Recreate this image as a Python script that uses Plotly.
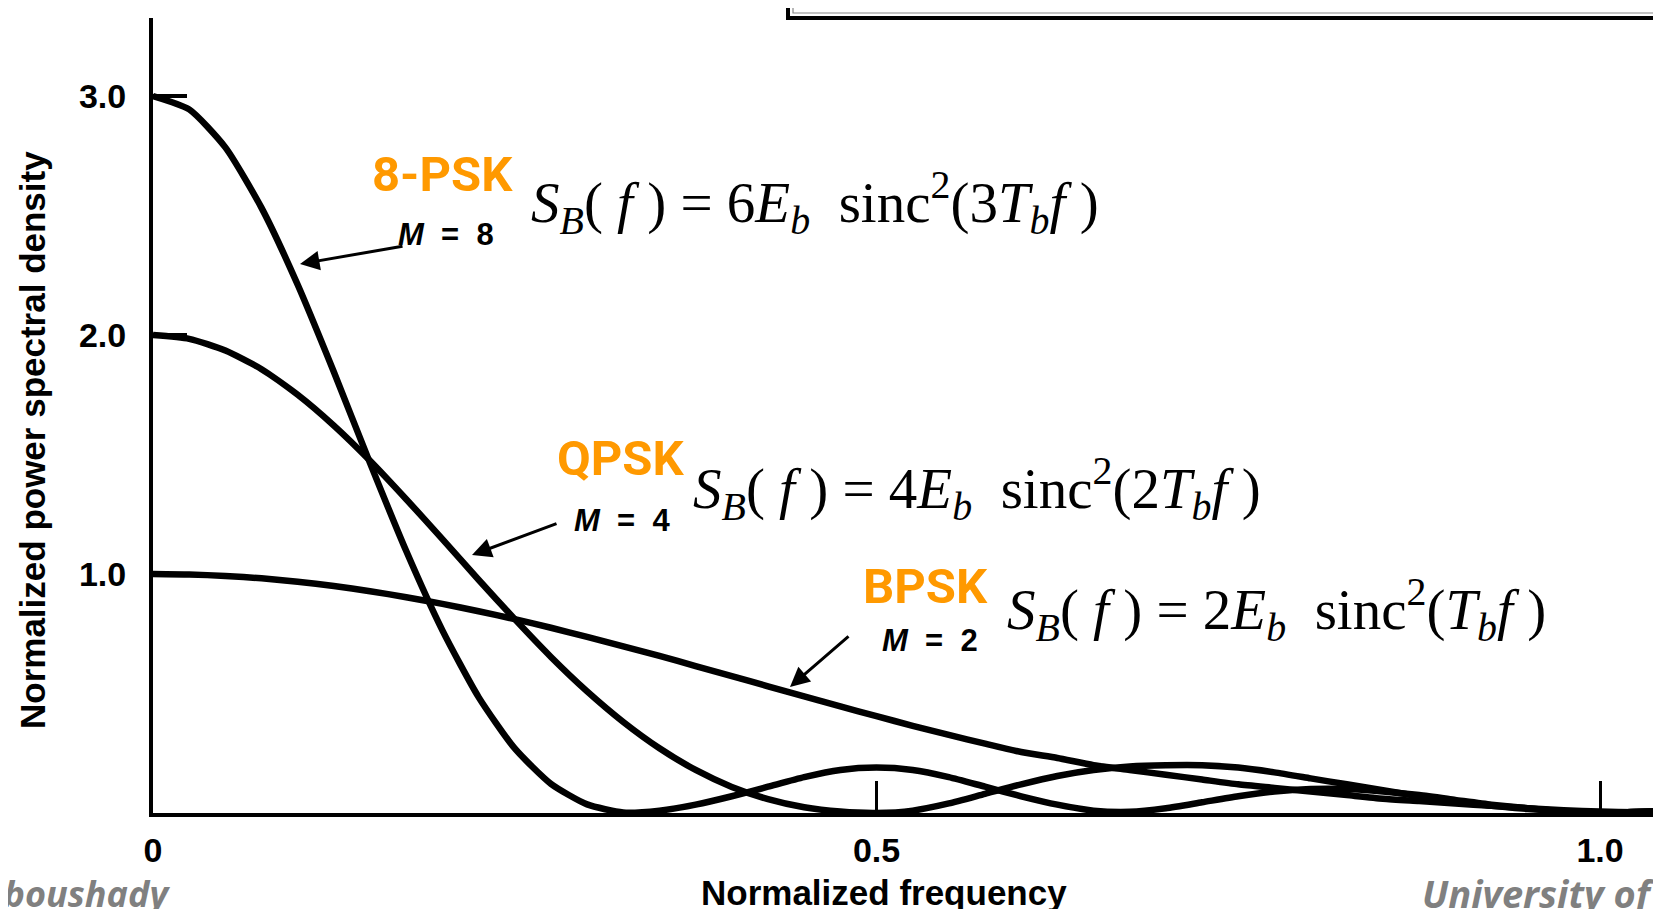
import plotly.graph_objects as go

# ---------------- data ----------------
freq = [0.0, 0.025, 0.05, 0.075, 0.1, 0.125, 0.15, 0.175, 0.2, 0.225,
        0.25, 0.275, 0.3, 0.325, 0.35, 0.375, 0.4, 0.425, 0.45, 0.475,
        0.5, 0.525, 0.55, 0.575, 0.6, 0.625, 0.65, 0.675, 0.7, 0.725,
        0.75, 0.775, 0.8, 0.825, 0.85, 0.875, 0.9, 0.925, 0.95, 0.975,
        1.0, 1.025, 1.05]

psd_bpsk = [1.0, 0.998, 0.992, 0.982, 0.968, 0.95, 0.928, 0.903, 0.875, 0.844,
            0.811, 0.775, 0.737, 0.697, 0.657, 0.615, 0.573, 0.53, 0.488, 0.446,
            0.405, 0.365, 0.327, 0.29, 0.255, 0.23, 0.2, 0.18, 0.16, 0.14,
            0.12, 0.105, 0.09, 0.075, 0.06, 0.05, 0.04, 0.03, 0.02, 0.012,
            0.006, 0.003, 0.0]

psd_qpsk = [2.0, 1.984, 1.935, 1.857, 1.75, 1.621, 1.474, 1.313, 1.146, 0.976,
            0.811, 0.653, 0.509, 0.381, 0.271, 0.18, 0.109, 0.058, 0.024, 0.006,
            0.0, 0.01, 0.04, 0.08, 0.12, 0.155, 0.18, 0.195, 0.2, 0.2,
            0.19, 0.17, 0.145, 0.12, 0.095, 0.07, 0.05, 0.03, 0.017, 0.007,
            0.0, 0.005, 0.01]

psd_8psk = [3.0, 2.944, 2.785, 2.532, 2.21, 1.845, 1.464, 1.096, 0.764, 0.485,
            0.27, 0.122, 0.036, 0.002, 0.01, 0.035, 0.07, 0.11, 0.15, 0.18,
            0.19, 0.18, 0.15, 0.11, 0.07, 0.035, 0.01, 0.005, 0.02, 0.045,
            0.07, 0.09, 0.1, 0.1, 0.09, 0.075, 0.055, 0.035, 0.02, 0.007,
            0.0, 0.005, 0.01]

x_tickvals = [0, 0.5, 1.0]
x_ticktext = ["0", "0.5", "1.0"]
y_tickvals = [1, 2, 3]
y_ticktext = ["1.0", "2.0", "3.0"]

series_names = ["BPSK", "QPSK", "8-PSK"]
scheme_labels = ["8-PSK", "QPSK", "BPSK"]
m_labels = ["<i>M</i>&nbsp; =&nbsp; 8", "<i>M</i>&nbsp; =&nbsp; 4", "<i>M</i>&nbsp; =&nbsp; 2"]
amplitudes = ["6", "4", "2"]
arguments = ["3", "2", ""]

# ---------------- layout geometry (pixels) ----------------
W, H = 1661, 909
L, R, T, B = 145, 0, 10, 104
PW = W - L - R
PH = H - T - B
X_UNIT = 1447.0   # pixels per 1.0 of normalized frequency
Y_UNIT = 239.0    # pixels per 1.0 of PSD


def pxx(px):
    return (px - L) / PW


def pxy(py):
    return (H - B - py) / PH


def dx(px):
    return (px - L) / X_UNIT


def dy(py):
    return (H - B - py) / Y_UNIT


fig = go.Figure()
for ys, name in zip([psd_bpsk, psd_qpsk, psd_8psk], series_names):
    fig.add_trace(go.Scatter(x=freq, y=ys, mode="lines", name=name,
                             line=dict(color="black", width=6.5, shape="spline", smoothing=0.6),
                             showlegend=False, hoverinfo="skip"))

ORANGE = "#FF9900"
GREY = "#808080"
annotations = []

# orange scheme labels
for text, (cx, cy) in zip(scheme_labels, [(434, 167), (613, 450), (918, 578)]):
    annotations.append(dict(xref="paper", yref="paper", x=pxx(cx), y=pxy(cy), text=text,
                            showarrow=False, xanchor="center", yanchor="middle",
                            font=dict(family="Roboto", size=49, color=ORANGE, weight="bold")))

# formulas
for k, a, (lx, cy) in zip(amplitudes, arguments, [(521, 195), (683, 480), (997, 601)]):
    txt = ("<i>S</i><sub><i>B</i></sub>( <i>f </i>) = " + k + "<i>E</i><sub><i>b</i></sub>&nbsp; sinc"
           "<sup>2</sup>(" + a + "<i>T</i><sub><i>b</i></sub><i>f </i>)")
    annotations.append(dict(xref="paper", yref="paper", x=pxx(lx), y=pxy(cy), text=txt,
                            showarrow=False, xanchor="left", yanchor="middle",
                            font=dict(family="Liberation Serif", size=57, color="black")))

# M = ... labels
for text, (cx, cy) in zip(m_labels, [(438, 226), (614, 512), (922, 632)]):
    annotations.append(dict(xref="paper", yref="paper", x=pxx(cx), y=pxy(cy), text=text,
                            showarrow=False, xanchor="center", yanchor="middle",
                            font=dict(family="Liberation Sans", size=31, color="black", weight="bold")))

# arrows (tail -> tip)
for (tx, ty), (hx, hy) in [((396, 238), (292, 256)), ((550, 515), (464, 547)), ((842, 627), (782, 679))]:
    annotations.append(dict(xref="x", yref="y", x=dx(hx), y=dy(hy), axref="x", ayref="y",
                            ax=dx(tx), ay=dy(ty), text="", showarrow=True,
                            arrowhead=2, arrowsize=1.3, arrowwidth=3, arrowcolor="black",
                            standoff=0, startstandoff=0))

# axis titles
annotations.append(dict(xref="paper", yref="paper", x=pxx(24), y=pxy(432),
                        text="Normalized power spectral density", textangle=-90,
                        showarrow=False, xanchor="center", yanchor="middle",
                        font=dict(family="Liberation Sans", size=35, color="black", weight="bold")))
annotations.append(dict(xref="paper", yref="paper", x=pxx(876), y=pxy(884),
                        text="Normalized frequency",
                        showarrow=False, xanchor="center", yanchor="middle",
                        font=dict(family="Liberation Sans", size=35, color="black", weight="bold")))

# footer texts (partially clipped in the reference)
annotations.append(dict(xref="paper", yref="paper", x=pxx(164), y=pxy(859),
                        text="<i>Aboushady</i>", showarrow=False, xanchor="right", yanchor="top",
                        font=dict(family="Open Sans", size=36, color=GREY, weight="bold")))
annotations.append(dict(xref="paper", yref="paper", x=pxx(1412), y=pxy(857),
                        text="<i>University of</i>", showarrow=False, xanchor="left", yanchor="top",
                        font=dict(family="Open Sans", size=38, color=GREY, weight="bold")))

shapes = [
    dict(type="path", xref="paper", yref="paper",
         path=f"M {pxx(780)} {pxy(-5)} L {pxx(780)} {pxy(10)} L {pxx(1670)} {pxy(10)}",
         line=dict(color="black", width=4)),
    dict(type="path", xref="paper", yref="paper",
         path=f"M {pxx(785)} {pxy(-5)} L {pxx(785)} {pxy(5)} L {pxx(1670)} {pxy(5)}",
         line=dict(color="#888888", width=1.2)),
]

fig.update_layout(
    width=W, height=H,
    margin=dict(l=L, r=R, t=T, b=B, pad=0),
    paper_bgcolor="white", plot_bgcolor="white",
    annotations=annotations, shapes=shapes,
    xaxis=dict(range=[0, PW / X_UNIT], showgrid=False, zeroline=False,
               showline=True, linecolor="black", linewidth=4,
               tickmode="array", tickvals=x_tickvals, ticktext=x_ticktext,
               ticks="inside", ticklen=32, tickwidth=2.5, tickcolor="black",
               ticklabelstandoff=4,
               tickfont=dict(family="Liberation Sans", size=34, color="black", weight="bold")),
    yaxis=dict(range=[0, PH / Y_UNIT], showgrid=False, zeroline=False,
               showline=True, linecolor="black", linewidth=4,
               tickmode="array", tickvals=y_tickvals, ticktext=y_ticktext,
               ticks="inside", ticklen=34, tickwidth=3.5, tickcolor="black",
               ticklabelstandoff=16,
               tickfont=dict(family="Liberation Sans", size=34, color="black", weight="bold")),
)

fig.write_html("out.html")
